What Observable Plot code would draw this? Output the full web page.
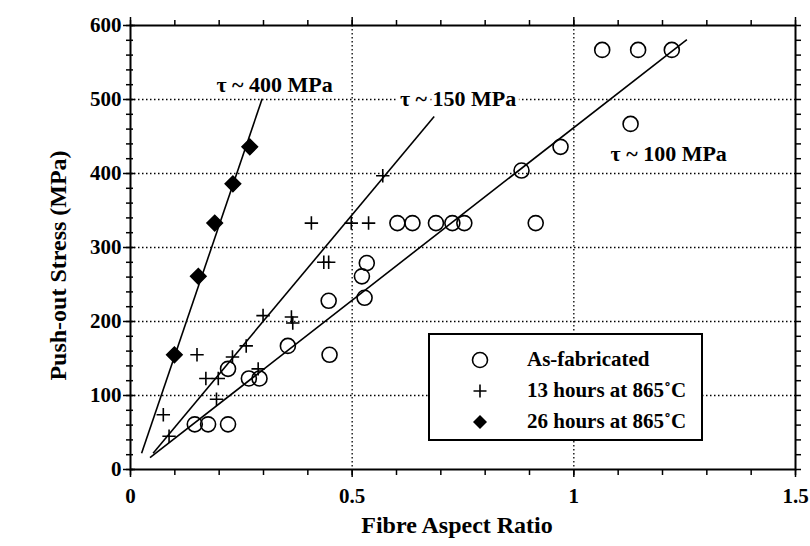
<!DOCTYPE html>
<html><head><meta charset="utf-8">
<script src="https://cdn.jsdelivr.net/npm/d3@7"></script>
<script src="https://cdn.jsdelivr.net/npm/@observablehq/plot@0.6"></script>
<style>
body{margin:0;background:#fff;}
#wrap{position:relative;width:810px;height:546px;font-family:"Liberation Serif","Times New Roman",Times,serif;}
#wrap svg text{font-family:"Liberation Serif","Times New Roman",Times,serif;}
#legend{position:absolute;left:428px;top:333px;width:271px;height:104px;border:2px solid #000;background:#fff;}
.row{position:absolute;left:0;width:271px;height:30px;}
.row svg{position:absolute;left:36px;top:3px;}
.row span{position:absolute;left:97px;top:1px;font-size:21px;line-height:26px;font-weight:bold;color:#000;font-family:"Liberation Serif","Times New Roman",Times,serif;}
</style></head><body><div id="wrap"></div>
<script>
// As-fabricated (open circles)
const asFabX = [0.145,0.175,0.220,0.220,0.267,0.291,0.355,0.447,0.449,0.522,0.528,0.533,0.602,0.636,0.689,0.726,0.753,0.882,0.914,0.970,1.064,1.128,1.145,1.221];
const asFabY = [61,61,61,136,123,123,167,228,155,261,232,279,333,333,333,333,333,404,333,436,567,467,567,567];
// 13 hours at 865°C (plus)
const h13X = [0.074,0.087,0.150,0.170,0.194,0.198,0.230,0.261,0.288,0.299,0.363,0.366,0.408,0.436,0.447,0.498,0.537,0.569];
const h13Y = [74,45,155,123,95,123,152,167,136,208,206,198,333,280,280,333,333,397];
// 26 hours at 865°C (filled diamonds)
const h26X = [0.099,0.153,0.190,0.231,0.269];
const h26Y = [155,261,333,386,436];
// fitted lines
const fitNames = ["τ ~ 400 MPa","τ ~ 150 MPa","τ ~ 100 MPa"];
const fitX0 = [0.025,0.051,0.044];
const fitY0 = [22,22,16];
const fitX1 = [0.297,0.685,1.255];
const fitY1 = [501,477,581];
const labelX = [0.325,0.739,1.214];
const labelY = [519,501,427];
// ticks
const xMajor = [0,0.5,1,1.5];
const xMinor = d3.range(0,16).map(i=>i/10);
const yMajor = [0,100,200,300,400,500,600];
const yMinor = d3.range(0,31).map(i=>i*20);
const xGrid = [0.5,1];
const yGrid = [100,200,300,400,500];
const legendLabels = ["As-fabricated","13 hours at 865˚C","26 hours at 865˚C"];

const asFab = asFabX.map((x,i)=>({x,y:asFabY[i]}));
const h13 = h13X.map((x,i)=>({x,y:h13Y[i]}));
const h26 = h26X.map((x,i)=>({x,y:h26Y[i]}));
const fits = fitNames.map((n,i)=>({n,x1:fitX0[i],y1:fitY0[i],x2:fitX1[i],y2:fitY1[i]}));
const labels = fitNames.map((n,i)=>({n,x:labelX[i],y:labelY[i]}));

const serif = "'Liberation Serif', 'Times New Roman', Times, serif";
const dotted = {stroke:"black",strokeOpacity:1,strokeDasharray:"1.5,2.5",strokeWidth:1.3};
const blank = () => "";

const chart = Plot.plot({
  width:810,height:546,
  marginLeft:130,marginRight:15,marginTop:25,marginBottom:77,
  x:{domain:[0,1.5]},
  y:{domain:[0,600]},
  style:{fontFamily:serif,fontSize:"21px",color:"black",background:"white",overflow:"visible"},
  marks:[
    Plot.gridX(xGrid,dotted),
    Plot.gridY(yGrid,dotted),
    Plot.link(fits,{x1:"x1",y1:"y1",x2:"x2",y2:"y2",stroke:"black",strokeWidth:1.6}),
    Plot.dot(asFab,{x:"x",y:"y",r:7.5,stroke:"black",strokeWidth:1.6,fill:"none"}),
    Plot.dot(h13,{x:"x",y:"y",symbol:"plus",r:4.4,stroke:"black",strokeWidth:1.6}),
    Plot.dot(h26,{x:"x",y:"y",symbol:"square",r:6.2,rotate:45,fill:"black",stroke:"black"}),
    Plot.text(labels,{x:"x",y:"y",text:"n",fontSize:22,fontWeight:"bold",fill:"black",stroke:"white",strokeWidth:8,paintOrder:"stroke"}),
    Plot.frame({stroke:"black",strokeWidth:2}),
    // bottom axis
    Plot.axisX({ticks:xMinor,tickSize:6,tickFormat:blank,label:null,strokeWidth:1.5}),
    Plot.axisX({ticks:xMajor,tickSize:8,tickPadding:11,tickFormat:d=>String(d),label:null,strokeWidth:1.5,fontWeight:"bold",fontSize:21}),
    // top axis
    Plot.axisX({anchor:"top",ticks:xMinor,tickSize:6,tickFormat:blank,label:null,strokeWidth:1.5}),
    Plot.axisX({anchor:"top",ticks:xMajor,tickSize:9,tickFormat:blank,label:null,strokeWidth:1.5}),
    // left axis
    Plot.axisY({ticks:yMinor,tickSize:4,tickFormat:blank,label:null,strokeWidth:1.5}),
    Plot.axisY({ticks:yMinor,tickSize:-3,tickFormat:blank,label:null,strokeWidth:1.5}),
    Plot.axisY({ticks:yMajor,tickSize:7,tickPadding:2,tickFormat:d=>String(d),label:null,strokeWidth:1.5,fontWeight:"bold",fontSize:21}),
    Plot.axisY({ticks:yMajor,tickSize:-5,tickFormat:blank,label:null,strokeWidth:1.5}),
    // right axis
    Plot.axisY({anchor:"right",ticks:yMinor,tickSize:5,tickFormat:blank,label:null,strokeWidth:1.5}),
    // axis titles
    Plot.text(["Fibre Aspect Ratio"],{frameAnchor:"bottom",dx:-6,dy:56,lineAnchor:"middle",textAnchor:"middle",fontSize:24,fontWeight:"bold"}),
    Plot.text(["Push-out Stress (MPa)"],{frameAnchor:"left",dx:-72,dy:18,rotate:-90,lineAnchor:"middle",textAnchor:"middle",fontSize:24,fontWeight:"bold"})
  ]
});
const wrap = document.getElementById("wrap");
wrap.appendChild(chart);

// legend
const legend = document.createElement("div");
legend.id = "legend";
const symbols = [
  '<svg width="28" height="24"><circle cx="14" cy="12" r="7.5" fill="none" stroke="black" stroke-width="1.6"/></svg>',
  '<svg width="28" height="24"><path d="M14,5.5V18.5M7.5,12H20.5" stroke="black" stroke-width="1.6"/></svg>',
  '<svg width="28" height="24"><path d="M14,5L21,12L14,19L7,12Z" fill="black"/></svg>'
];
legendLabels.forEach((t,i)=>{
  const row = document.createElement("div");
  row.className = "row";
  row.style.top = (10 + i*31) + "px";
  row.innerHTML = symbols[i] + '<span></span>';
  row.querySelector("span").textContent = t;
  legend.appendChild(row);
});
wrap.appendChild(legend);
</script>
</body></html>
